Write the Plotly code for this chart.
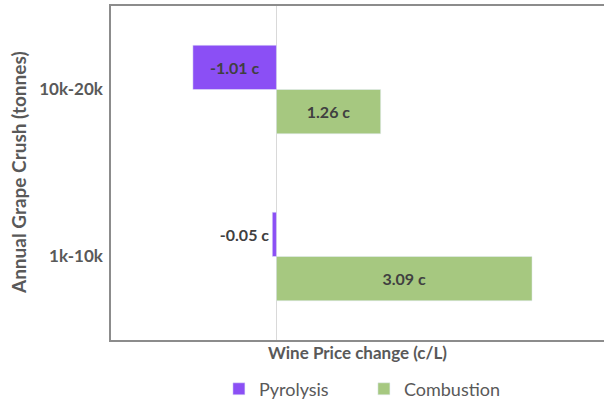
import plotly.graph_objects as go

categories = ["1k-10k", "10k-20k"]
pyrolysis = [-0.05, -1.01]
combustion = [3.09, 1.26]
pyro_labels = ["-0.05 c", "-1.01 c"]
comb_labels = ["3.09 c", "1.26 c"]

FONT = "Lato"
TXT = "#404040"
AX = "#595959"

fig = go.Figure()
fig.add_trace(go.Bar(
    y=categories, x=combustion, orientation="h", name="Combustion",
    marker=dict(color="#A6C880"), text=comb_labels, textposition="auto",
    insidetextanchor="middle",
    textfont=dict(family=FONT, size=16, color=TXT, weight="bold"),
    legendrank=2, cliponaxis=False,
))
fig.add_trace(go.Bar(
    y=categories, x=pyrolysis, orientation="h", name="Pyrolysis",
    marker=dict(color="#8B4FF5"), text=pyro_labels, textposition="auto",
    insidetextanchor="middle",
    textfont=dict(family=FONT, size=16, color=TXT, weight="bold"),
    legendrank=1, cliponaxis=False,
))

fig.add_annotation(
    text="Annual Grape Crush (tonnes)", textangle=-90,
    xref="paper", yref="paper", x=-0.1886, y=0.5,
    xanchor="center", yanchor="middle", showarrow=False,
    font=dict(family=FONT, size=19, color=AX, weight="bold"),
)

fig.update_layout(
    width=604, height=403,
    margin=dict(l=111, r=0, t=6, b=63, autoexpand=False),
    paper_bgcolor="white", plot_bgcolor="white",
    barmode="group", bargap=0.47, bargroupgap=0,
    font=dict(family=FONT, color=AX),
    showlegend=True,
    legend=dict(orientation="h", x=0.513, xanchor="center", y=-0.147, yanchor="middle",
                font=dict(family=FONT, size=18, color=AX), entrywidth=100,
                traceorder="normal"),
    xaxis=dict(range=[-2, 3.96], showticklabels=False, ticks="", showgrid=False,
               automargin=False,
               zeroline=True, zerolinecolor="#D9D9D9", zerolinewidth=1,
               showline=True, linecolor="#8C8C8C", linewidth=1.5, mirror=True,
               title=dict(text="Wine Price change (c/L)", standoff=6,
                          font=dict(family=FONT, size=17, color=AX, weight="bold"))),
    yaxis=dict(type="category", range=[-0.5, 1.5], showgrid=False, ticks="",
               automargin=False,
               showline=True, linecolor="#8C8C8C", linewidth=1.5,
               tickfont=dict(family=FONT, size=17, color=AX, weight="bold"),
               ticklabelstandoff=3),
)

fig.write_html("out.html")
